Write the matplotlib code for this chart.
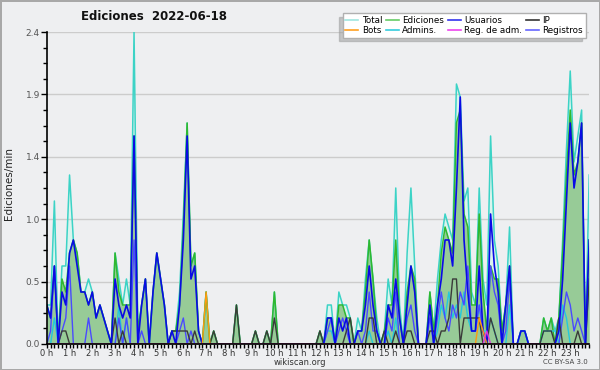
"""Edits per minute on one day, wikiscan style (10-minute samples)."""

import numpy as np
import matplotlib.pyplot as plt
from matplotlib.lines import Line2D
from matplotlib.ticker import MultipleLocator

# one value per 10 minutes, 12 values (2 hours) per row
total = [
    0.3, 0.3, 1.1, 0.0, 0.6, 0.6, 1.3, 0.8, 0.7, 0.4, 0.4, 0.5,
    0.4, 0.2, 0.3, 0.2, 0.1, 0.0, 0.7, 0.5, 0.3, 0.5, 0.3, 2.4,
    0.1, 0.3, 0.5, 0.0, 0.4, 0.7, 0.5, 0.3, 0.0, 0.1, 0.1, 0.4,
    1.0, 1.7, 0.6, 0.7, 0.1, 0.0, 0.4, 0.0, 0.1, 0.0, 0.0, 0.0,
    0.0, 0.0, 0.3, 0.0, 0.0, 0.0, 0.0, 0.1, 0.0, 0.0, 0.1, 0.0,
    0.4, 0.0, 0.0, 0.0, 0.0, 0.0, 0.0, 0.0, 0.0, 0.0, 0.0, 0.0,
    0.1, 0.0, 0.3, 0.3, 0.0, 0.4, 0.3, 0.3, 0.2, 0.0, 0.2, 0.1,
    0.5, 0.8, 0.5, 0.2, 0.0, 0.1, 0.5, 0.3, 1.2, 0.3, 0.0, 0.7,
    1.2, 0.6, 0.0, 0.0, 0.0, 0.4, 0.1, 0.5, 0.8, 1.0, 0.9, 0.8,
    2.0, 1.9, 1.1, 1.2, 0.4, 0.3, 1.2, 0.5, 0.3, 1.6, 0.8, 0.6,
    0.1, 0.3, 0.9, 0.0, 0.0, 0.1, 0.1, 0.0, 0.0, 0.0, 0.0, 0.2,
    0.1, 0.2, 0.1, 0.2, 0.8, 1.5, 2.1, 1.4, 1.6, 1.8, 0.0, 1.3,
]
ediciones = [
    0.3, 0.2, 0.6, 0.0, 0.5, 0.4, 0.7, 0.8, 0.7, 0.4, 0.4, 0.3,
    0.4, 0.2, 0.3, 0.2, 0.1, 0.0, 0.7, 0.4, 0.3, 0.3, 0.3, 1.6,
    0.1, 0.3, 0.5, 0.0, 0.4, 0.7, 0.5, 0.3, 0.0, 0.1, 0.1, 0.3,
    0.9, 1.7, 0.6, 0.7, 0.1, 0.0, 0.4, 0.0, 0.1, 0.0, 0.0, 0.0,
    0.0, 0.0, 0.3, 0.0, 0.0, 0.0, 0.0, 0.1, 0.0, 0.0, 0.1, 0.0,
    0.4, 0.0, 0.0, 0.0, 0.0, 0.0, 0.0, 0.0, 0.0, 0.0, 0.0, 0.0,
    0.1, 0.0, 0.2, 0.2, 0.0, 0.3, 0.3, 0.2, 0.2, 0.0, 0.1, 0.1,
    0.4, 0.8, 0.5, 0.1, 0.0, 0.1, 0.3, 0.3, 0.8, 0.2, 0.0, 0.4,
    0.6, 0.5, 0.0, 0.0, 0.0, 0.4, 0.1, 0.3, 0.7, 0.9, 0.8, 0.7,
    1.7, 1.8, 1.0, 0.9, 0.3, 0.3, 1.0, 0.4, 0.1, 0.6, 0.5, 0.5,
    0.1, 0.3, 0.6, 0.0, 0.0, 0.1, 0.1, 0.0, 0.0, 0.0, 0.0, 0.2,
    0.1, 0.2, 0.0, 0.2, 0.7, 1.3, 1.8, 1.3, 1.4, 1.7, 0.0, 0.8,
]
usuarios = [
    0.3, 0.2, 0.6, 0.0, 0.4, 0.3, 0.7, 0.8, 0.6, 0.4, 0.4, 0.3,
    0.4, 0.2, 0.3, 0.2, 0.1, 0.0, 0.5, 0.3, 0.2, 0.3, 0.2, 1.6,
    0.0, 0.3, 0.5, 0.0, 0.4, 0.7, 0.5, 0.3, 0.0, 0.1, 0.0, 0.3,
    0.8, 1.6, 0.5, 0.6, 0.1, 0.0, 0.0, 0.0, 0.0, 0.0, 0.0, 0.0,
    0.0, 0.0, 0.0, 0.0, 0.0, 0.0, 0.0, 0.0, 0.0, 0.0, 0.0, 0.0,
    0.0, 0.0, 0.0, 0.0, 0.0, 0.0, 0.0, 0.0, 0.0, 0.0, 0.0, 0.0,
    0.0, 0.0, 0.2, 0.2, 0.0, 0.2, 0.1, 0.2, 0.0, 0.0, 0.1, 0.1,
    0.3, 0.6, 0.3, 0.1, 0.0, 0.0, 0.3, 0.2, 0.5, 0.2, 0.0, 0.3,
    0.6, 0.4, 0.0, 0.0, 0.0, 0.3, 0.0, 0.3, 0.5, 0.8, 0.8, 0.6,
    1.2, 1.9, 0.8, 0.4, 0.1, 0.1, 0.6, 0.1, 0.0, 1.0, 0.6, 0.4,
    0.0, 0.3, 0.6, 0.0, 0.0, 0.1, 0.1, 0.0, 0.0, 0.0, 0.0, 0.0,
    0.0, 0.0, 0.0, 0.1, 0.5, 1.1, 1.7, 1.2, 1.4, 1.7, 0.0, 0.8,
]
ip = [
    0.0, 0.0, 0.0, 0.0, 0.1, 0.1, 0.0, 0.0, 0.0, 0.0, 0.0, 0.0,
    0.0, 0.0, 0.0, 0.0, 0.0, 0.0, 0.2, 0.0, 0.1, 0.0, 0.0, 0.0,
    0.0, 0.0, 0.0, 0.0, 0.0, 0.0, 0.0, 0.0, 0.0, 0.1, 0.1, 0.1,
    0.1, 0.1, 0.0, 0.1, 0.0, 0.0, 0.0, 0.0, 0.1, 0.0, 0.0, 0.0,
    0.0, 0.0, 0.3, 0.0, 0.0, 0.0, 0.0, 0.1, 0.0, 0.0, 0.1, 0.0,
    0.2, 0.0, 0.0, 0.0, 0.0, 0.0, 0.0, 0.0, 0.0, 0.0, 0.0, 0.0,
    0.1, 0.0, 0.0, 0.0, 0.0, 0.0, 0.0, 0.1, 0.2, 0.0, 0.0, 0.0,
    0.0, 0.2, 0.2, 0.0, 0.0, 0.1, 0.0, 0.0, 0.1, 0.0, 0.0, 0.1,
    0.1, 0.0, 0.0, 0.0, 0.0, 0.1, 0.1, 0.0, 0.1, 0.1, 0.2, 0.5,
    0.5, 0.0, 0.2, 0.2, 0.2, 0.2, 0.2, 0.0, 0.0, 0.2, 0.1, 0.0,
    0.0, 0.0, 0.0, 0.0, 0.0, 0.0, 0.0, 0.0, 0.0, 0.0, 0.0, 0.1,
    0.1, 0.1, 0.0, 0.2, 0.0, 0.0, 0.0, 0.0, 0.1, 0.0, 0.0, 0.5,
]
registros = [
    0.0, 0.1, 0.6, 0.0, 0.1, 0.2, 0.6, 0.0, 0.0, 0.0, 0.0, 0.2,
    0.0, 0.0, 0.0, 0.0, 0.0, 0.0, 0.0, 0.2, 0.0, 0.2, 0.0, 0.8,
    0.0, 0.1, 0.0, 0.0, 0.0, 0.0, 0.0, 0.0, 0.0, 0.0, 0.0, 0.1,
    0.2, 0.0, 0.1, 0.0, 0.0, 0.0, 0.0, 0.0, 0.0, 0.0, 0.0, 0.0,
    0.0, 0.0, 0.0, 0.0, 0.0, 0.0, 0.0, 0.0, 0.0, 0.0, 0.0, 0.0,
    0.0, 0.0, 0.0, 0.0, 0.0, 0.0, 0.0, 0.0, 0.0, 0.0, 0.0, 0.0,
    0.0, 0.0, 0.1, 0.2, 0.0, 0.1, 0.2, 0.1, 0.0, 0.0, 0.1, 0.0,
    0.1, 0.4, 0.1, 0.1, 0.0, 0.0, 0.2, 0.1, 0.4, 0.0, 0.0, 0.2,
    0.3, 0.1, 0.0, 0.0, 0.0, 0.2, 0.0, 0.2, 0.4, 0.2, 0.1, 0.3,
    0.2, 0.4, 0.3, 0.6, 0.1, 0.1, 0.3, 0.1, 0.0, 0.6, 0.4, 0.3,
    0.0, 0.1, 0.5, 0.0, 0.0, 0.0, 0.0, 0.0, 0.0, 0.0, 0.0, 0.0,
    0.0, 0.0, 0.0, 0.0, 0.2, 0.4, 0.3, 0.1, 0.2, 0.1, 0.0, 0.5,
]
admins = [
    0.0, 0.0, 0.2, 0.0, 0.0, 0.0, 0.0, 0.0, 0.0, 0.0, 0.0, 0.0,
    0.0, 0.0, 0.0, 0.0, 0.0, 0.0, 0.0, 0.3, 0.0, 0.2, 0.0, 0.0,
    0.0, 0.0, 0.0, 0.0, 0.0, 0.0, 0.0, 0.0, 0.0, 0.0, 0.0, 0.0,
    0.0, 0.0, 0.0, 0.0, 0.0, 0.0, 0.0, 0.0, 0.0, 0.0, 0.0, 0.0,
    0.0, 0.0, 0.0, 0.0, 0.0, 0.0, 0.0, 0.0, 0.0, 0.0, 0.0, 0.0,
    0.0, 0.0, 0.0, 0.0, 0.0, 0.0, 0.0, 0.0, 0.0, 0.0, 0.0, 0.0,
    0.0, 0.0, 0.1, 0.1, 0.0, 0.0, 0.0, 0.0, 0.0, 0.0, 0.0, 0.0,
    0.0, 0.1, 0.0, 0.0, 0.0, 0.0, 0.1, 0.0, 0.2, 0.0, 0.0, 0.0,
    0.0, 0.0, 0.0, 0.0, 0.0, 0.0, 0.0, 0.1, 0.3, 0.2, 0.4, 0.2,
    0.3, 0.2, 0.4, 0.2, 0.1, 0.1, 0.3, 0.1, 0.1, 0.2, 0.1, 0.0,
    0.0, 0.0, 0.3, 0.0, 0.0, 0.1, 0.1, 0.0, 0.0, 0.0, 0.0, 0.1,
    0.1, 0.1, 0.1, 0.0, 0.3, 0.2, 0.0, 0.0, 0.0, 0.0, 0.0, 0.0,
]
bots = [
    0.0, 0.0, 0.0, 0.0, 0.0, 0.0, 0.0, 0.0, 0.0, 0.0, 0.0, 0.0,
    0.0, 0.0, 0.0, 0.0, 0.0, 0.0, 0.0, 0.0, 0.0, 0.0, 0.0, 0.0,
    0.0, 0.0, 0.0, 0.0, 0.0, 0.0, 0.0, 0.0, 0.0, 0.0, 0.0, 0.0,
    0.0, 0.0, 0.0, 0.0, 0.0, 0.0, 0.4, 0.0, 0.0, 0.0, 0.0, 0.0,
    0.0, 0.0, 0.0, 0.0, 0.0, 0.0, 0.0, 0.0, 0.0, 0.0, 0.0, 0.0,
    0.0, 0.0, 0.0, 0.0, 0.0, 0.0, 0.0, 0.0, 0.0, 0.0, 0.0, 0.0,
    0.0, 0.0, 0.0, 0.0, 0.0, 0.0, 0.0, 0.0, 0.0, 0.0, 0.0, 0.0,
    0.0, 0.0, 0.0, 0.0, 0.0, 0.0, 0.0, 0.0, 0.0, 0.0, 0.0, 0.0,
    0.0, 0.0, 0.0, 0.0, 0.0, 0.0, 0.0, 0.0, 0.0, 0.0, 0.0, 0.0,
    0.0, 0.0, 0.0, 0.0, 0.0, 0.0, 0.2, 0.1, 0.0, 0.0, 0.0, 0.0,
    0.0, 0.0, 0.0, 0.0, 0.0, 0.0, 0.0, 0.0, 0.0, 0.0, 0.0, 0.0,
    0.0, 0.0, 0.0, 0.0, 0.0, 0.0, 0.0, 0.0, 0.0, 0.0, 0.0, 0.0,
]
reg_adm = [
    0.0, 0.0, 0.0, 0.0, 0.0, 0.0, 0.0, 0.0, 0.0, 0.0, 0.0, 0.0,
    0.0, 0.0, 0.0, 0.0, 0.0, 0.0, 0.0, 0.0, 0.0, 0.0, 0.0, 0.0,
    0.0, 0.0, 0.0, 0.0, 0.0, 0.0, 0.0, 0.0, 0.0, 0.0, 0.0, 0.0,
    0.0, 0.0, 0.0, 0.0, 0.0, 0.0, 0.0, 0.0, 0.0, 0.0, 0.0, 0.0,
    0.0, 0.0, 0.0, 0.0, 0.0, 0.0, 0.0, 0.0, 0.0, 0.0, 0.0, 0.0,
    0.0, 0.0, 0.0, 0.0, 0.0, 0.0, 0.0, 0.0, 0.0, 0.0, 0.0, 0.0,
    0.0, 0.0, 0.0, 0.0, 0.0, 0.0, 0.0, 0.0, 0.0, 0.0, 0.0, 0.0,
    0.0, 0.0, 0.0, 0.0, 0.0, 0.0, 0.0, 0.0, 0.0, 0.0, 0.0, 0.0,
    0.0, 0.0, 0.0, 0.0, 0.0, 0.0, 0.0, 0.0, 0.0, 0.0, 0.0, 0.0,
    0.0, 0.0, 0.0, 0.0, 0.0, 0.0, 0.0, 0.0, 0.1, 0.0, 0.0, 0.0,
    0.0, 0.0, 0.0, 0.0, 0.0, 0.0, 0.0, 0.0, 0.0, 0.0, 0.0, 0.0,
    0.0, 0.0, 0.0, 0.0, 0.0, 0.0, 0.0, 0.0, 0.0, 0.0, 0.0, 0.0,
]

hours = np.arange(len(total)) / 6
ytick_values = [0.0, 0.48, 0.96, 1.44, 1.92, 2.4]
ytick_labels = ["0.0", "0.5", "1.0", "1.4", "1.9", "2.4"]
hour_labels = [f"{h} h" for h in range(24)]

BG = "#eeeff1"

fig = plt.figure(figsize=(6, 3.7), dpi=100, facecolor=BG,
                 edgecolor="#a8a8a8", linewidth=1.0)
ax = fig.add_axes([0.078, 0.0703, 0.904, 0.8432])
ax.set_facecolor(BG)

# filled areas first, lines on top
ax.fill_between(hours, total, color="#daf4ee", lw=0, zorder=1)
ax.fill_between(hours, ediciones, color="#97cb97", lw=0, zorder=2)
ax.plot(hours, total, color="#3cd3c6", lw=1.1, zorder=3)
ax.plot(hours, ediciones, color="#2fb82f", lw=1.1, zorder=4)
ax.plot(hours, admins, color="#22c8dd", lw=1.0, zorder=5)
ax.plot(hours, registros, color="#4a4aff", lw=1.0, zorder=6)
ax.plot(hours, ip, color="#3a3a3a", lw=1.0, zorder=7)
ax.plot(hours, usuarios, color="#0a0ae6", lw=1.2, zorder=8)
ax.plot(hours, bots, color="#ff9a10", lw=1.0, zorder=9)
ax.plot(hours, reg_adm, color="#dd33dd", lw=1.0, zorder=9)

ax.set_xlim(0, hours[-1])
ax.set_ylim(0, 2.4)

ax.set_xticks(range(24), labels=hour_labels)
ax.xaxis.set_minor_locator(MultipleLocator(1 / 6))
ax.set_yticks(ytick_values, labels=ytick_labels)
ax.yaxis.set_minor_locator(MultipleLocator(0.12))
ax.tick_params(axis="x", which="both", direction="out", length=3, width=1,
               labelsize=6, pad=0.5, labelcolor="#333333")
ax.tick_params(axis="y", which="major", direction="out", length=4, width=1,
               labelsize=6.5, pad=1, labelcolor="#555555")
ax.tick_params(axis="y", which="minor", direction="out", length=3, width=1)
ax.grid(axis="y", color="#cccccc", lw=1, zorder=0)
for side in ("top", "right"):
    ax.spines[side].set_visible(False)
for side in ("left", "bottom"):
    ax.spines[side].set_linewidth(1.2)
    ax.spines[side].set_zorder(10)

fig.text(0.257, 1 - 16 / 370, "Ediciones  2022-06-18", ha="center",
         va="center", fontsize=8.5, fontweight="bold", color="#111111")
fig.text(9 / 600, 1 - 183 / 370, "Ediciones/min", rotation=90, ha="center",
         va="center", fontsize=7.5, color="#222222")
fig.text(300 / 600, 1 - 362.5 / 370, "wikiscan.org", ha="center",
         va="center", fontsize=6, color="#333333")
fig.text(588 / 600, 1 - 362.5 / 370, "CC BY-SA 3.0", ha="right",
         va="center", fontsize=5, color="#444444")

legend_items = [
    ("Total", "#9fe6e0"), ("Bots", "#ffa020"),
    ("Ediciones", "#66cc66"), ("Admins.", "#33ccdd"),
    ("Usuarios", "#3333ee"), ("Reg. de adm.", "#ee44ee"),
    ("IP", "#333333"), ("Registros", "#6666ff"),
]
handles = [Line2D([], [], color=c, lw=1.2) for _, c in legend_items]
fig.legend(handles, [name for name, _ in legend_items], ncol=4,
           loc="upper right", bbox_to_anchor=(590 / 600, 1 - 9 / 370),
           fontsize=6.3, frameon=True, fancybox=False, framealpha=1,
           facecolor="white", edgecolor="#b0b0b0",
           shadow={"ox": -2.5, "oy": -2.5, "color": "#9a9a9a"},
           handlelength=1.5, handletextpad=0.4, columnspacing=0.4,
           labelspacing=0.1, borderpad=0.3)

plt.savefig("out.png", dpi=100, facecolor=fig.get_facecolor(),
            edgecolor=fig.get_edgecolor())
